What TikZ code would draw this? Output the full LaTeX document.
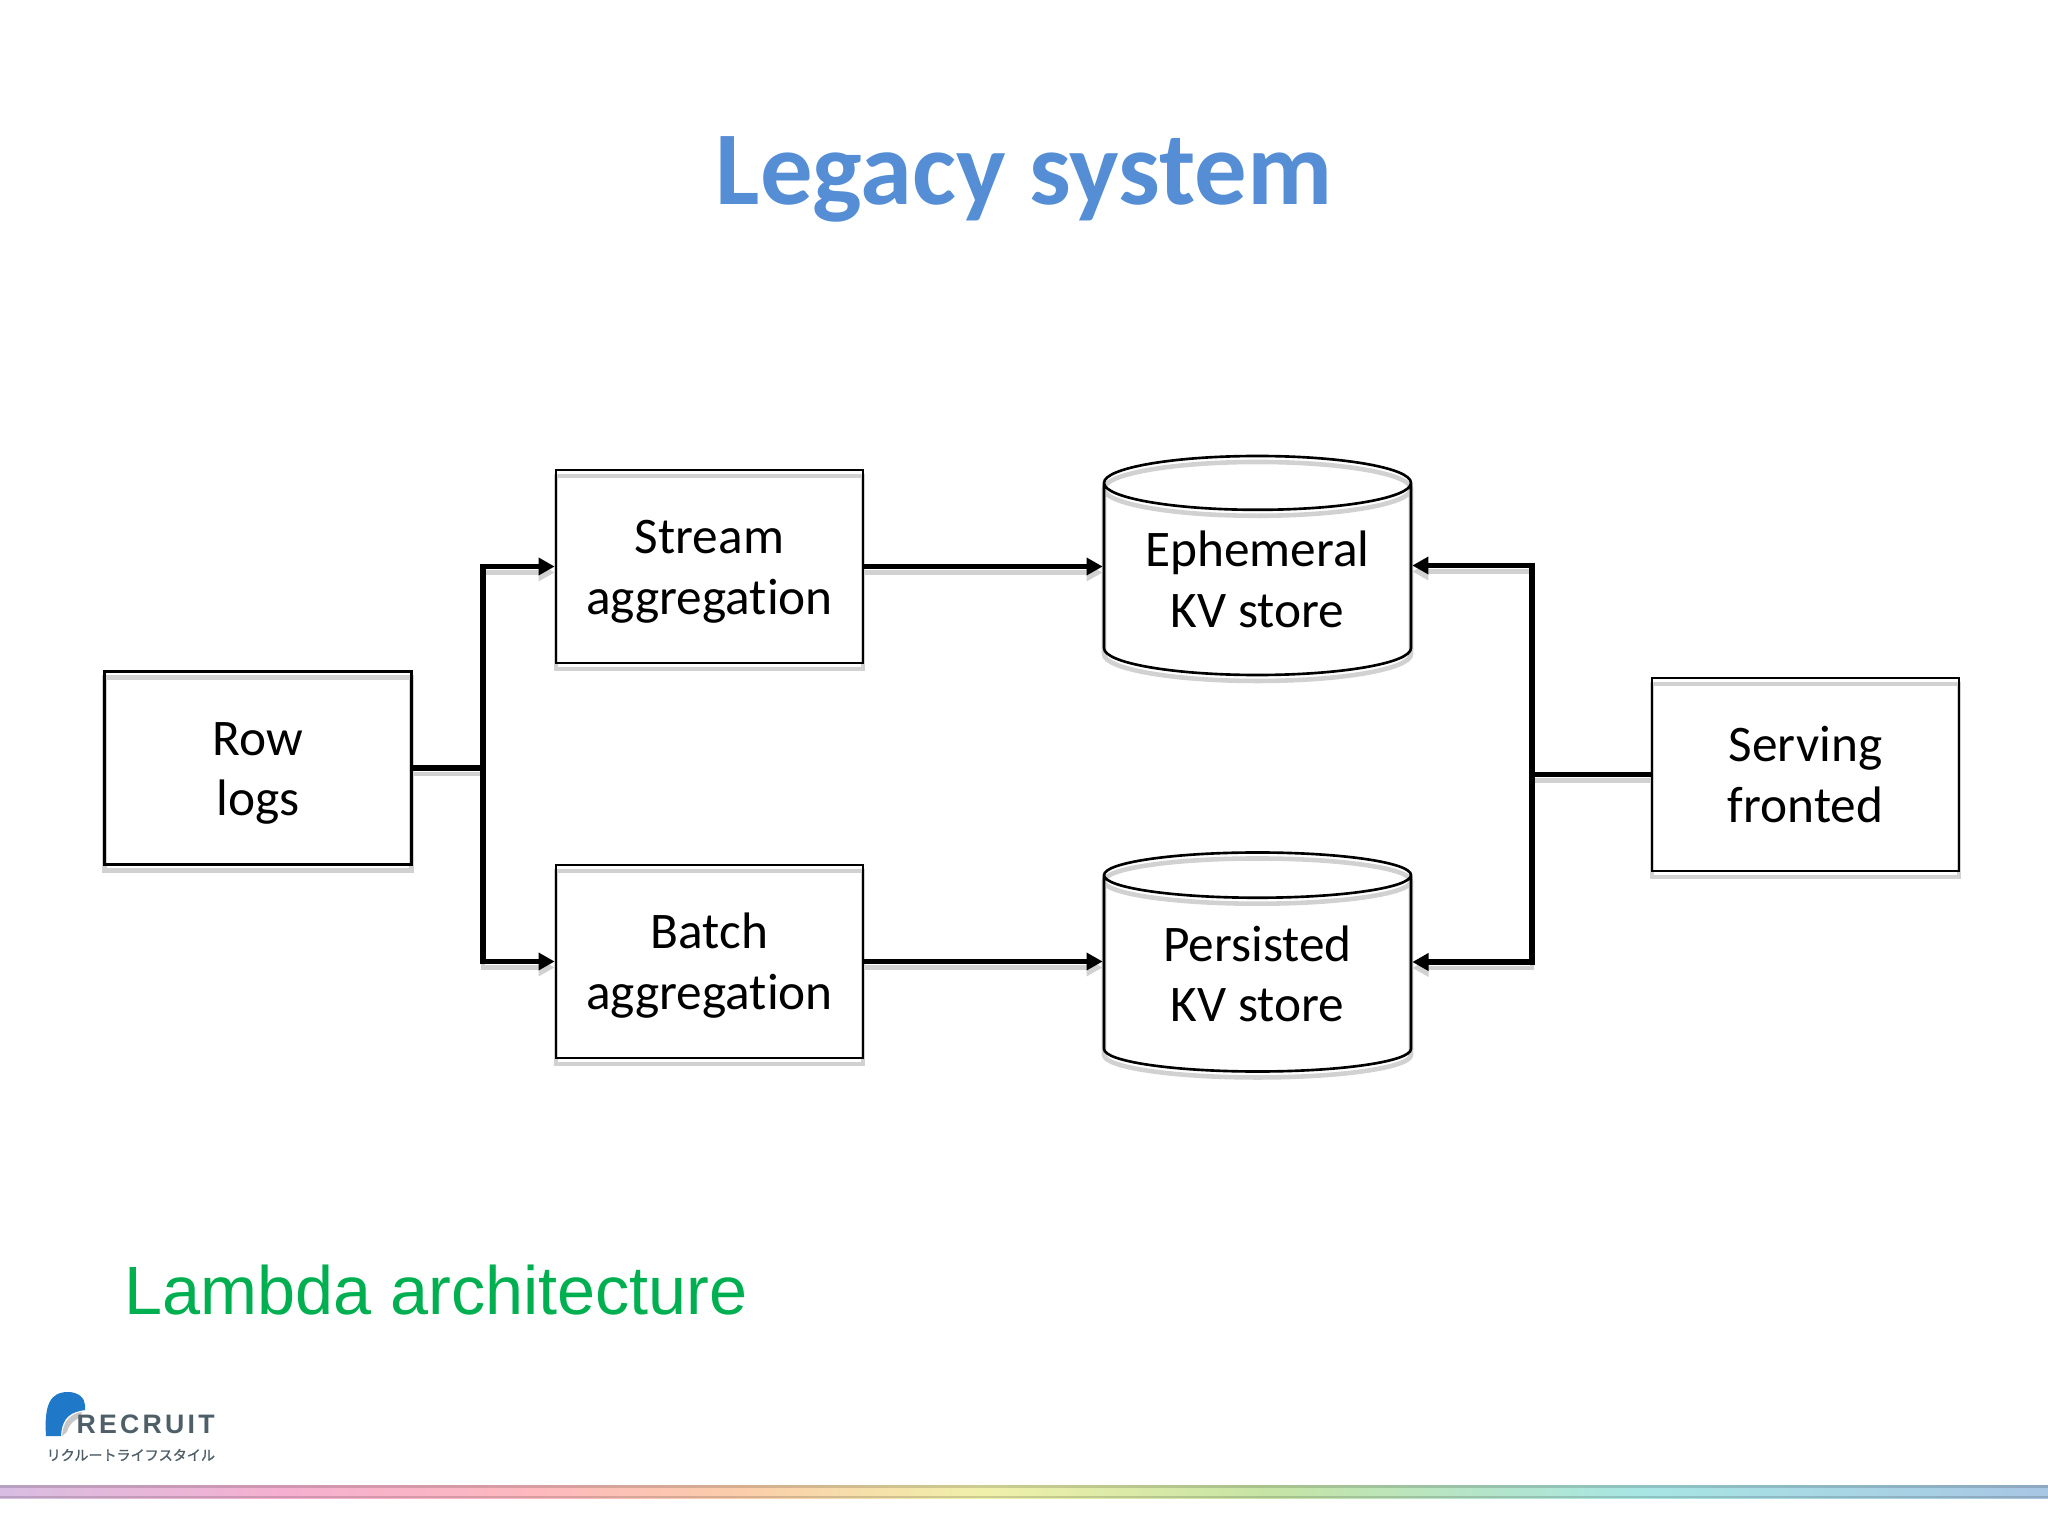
\documentclass[tikz,border=0pt]{standalone}
\usepackage{fontspec}
\setmainfont[Ligatures=NoCommon]{Carlito}
\newfontfamily\arialfont{Liberation Sans}
\newfontfamily\cjkfont[FakeBold=1.5]{Noto Sans CJK JP}
\usetikzlibrary{arrows.meta,shapes.geometric}
\definecolor{titleblue}{HTML}{558ED5}
\definecolor{lambdagreen}{HTML}{00B050}
\definecolor{logoblue}{HTML}{1F78C8}
\definecolor{logogray}{HTML}{4F5F68}
\pgfdeclarehorizontalshading{rainbowbar}{100bp}{
  rgb(0bp)=(0.847,0.745,0.886);
  rgb(25bp)=(0.847,0.745,0.886);
  rgb(32bp)=(0.961,0.690,0.816);
  rgb(38bp)=(0.992,0.725,0.745);
  rgb(43bp)=(0.984,0.804,0.667);
  rgb(49bp)=(0.941,0.941,0.667);
  rgb(56bp)=(0.776,0.894,0.647);
  rgb(65bp)=(0.659,0.902,0.894);
  rgb(75bp)=(0.659,0.776,0.894);
  rgb(100bp)=(0.659,0.776,0.894)}
\tikzset{
  lineshadow/.style={preaction={draw=black!18,line width=1.3pt,transform canvas={yshift=-1.7pt}}},
  boxlabel/.style={align=center,font=\fontsize{14.6}{17.3}\selectfont,text height=30.8pt,text depth=3.5pt},
  blockbox/.style={draw=black,line width=0.75pt,lineshadow,boxlabel,inner sep=0pt,minimum width=3.07cm,minimum height=1.93cm},
  storedb/.style={cylinder,shape border rotate=90,aspect=0.24,anchor=shape center,draw=black,line width=0.75pt,lineshadow,boxlabel,inner sep=0pt,minimum width=3.07cm,minimum height=2.19cm},
  flowline/.style={draw=black,line width=1.5pt,lineshadow},
  flowarrow/.style={flowline,-{Triangle[length=4.6pt,width=4.8pt]}}
}
\begin{document}
\begin{tikzpicture}
   \useasboundingbox (0,0) rectangle (20.48,-15.36);
   \node[font=\fontsize{29.8}{34}\selectfont\bfseries,text=titleblue] (title) at (10.24,-1.79) {Legacy system};
   \begin{scope}[every node/.style={blockbox}]
    \node (row) at (2.58,-7.68) {Row\\logs};
    \node (stream) at (7.095,-5.665) {Stream\\aggregation};
    \node (batch) at (7.095,-9.615) {Batch\\aggregation};
    \node (serving) at (18.055,-7.745) {Serving\\fronted};
   \end{scope}
   \begin{scope}[every node/.style={storedb}]
    \node (ephemeral) at (12.575,-5.655) {Ephemeral\\KV store};
    \node (persisted) at (12.575,-9.62) {Persisted\\KV store};
   \end{scope}
   \coordinate (jleft) at (4.83,-7.68);
   \coordinate (jright) at (15.32,-7.745);
   \draw[flowline] (row.east) -- (jleft.center);
   \draw[flowarrow] (jleft.center) |- (stream.west);
   \draw[flowarrow] (jleft.center) |- (batch.west);
   \draw[flowarrow] (stream.east) -- (stream.east -| ephemeral.west);
   \draw[flowarrow] (batch.east) -- (batch.east -| persisted.west);
   \draw[flowline] (serving.west) -- (jright.center);
   \draw[flowarrow] (jright.center) |- (ephemeral.east |- ephemeral.shape center);
   \draw[flowarrow] (jright.center) |- (persisted.east |- persisted.shape center);
   \node[font=\arialfont\fontsize{19.45}{22}\selectfont,text=lambdagreen,anchor=west] (lambda) at (1.12,-12.9) {Lambda architecture};
   \fill[logoblue] (0.46,-14.36) .. controls (0.44,-14.05) and (0.5,-13.92) .. (0.68,-13.92)
     .. controls (0.78,-13.92) and (0.85,-13.98) .. (0.85,-14.05) -- (0.85,-14.1)
     .. controls (0.72,-14.12) and (0.62,-14.16) .. (0.61,-14.36) -- cycle;
   \fill[black!22] (0.62,-14.36) .. controls (0.63,-14.2) and (0.72,-14.13) .. (0.82,-14.12) -- (0.8,-14.18)
     .. controls (0.74,-14.2) and (0.69,-14.24) .. (0.67,-14.32) -- cycle;
   \node[font=\arialfont\bfseries\fontsize{7.6}{9}\selectfont\addfontfeature{LetterSpace=12},text=logogray,anchor=west,inner sep=0pt] (recruit) at (0.76,-14.245) {RECRUIT};
   \node[font=\cjkfont\fontsize{4}{5}\selectfont,text=logogray,anchor=west,inner sep=0pt] (lifestyle) at (0.46,-14.55) {リクルートライフスタイル};
   \shade[shading=rainbowbar] (0,-14.85) rectangle (20.48,-14.98);
   \fill[black,opacity=0.15] (0,-14.85) rectangle (20.48,-14.88);
   \fill[black,opacity=0.15] (0,-14.96) rectangle (20.48,-14.98);
\end{tikzpicture}
\end{document}
